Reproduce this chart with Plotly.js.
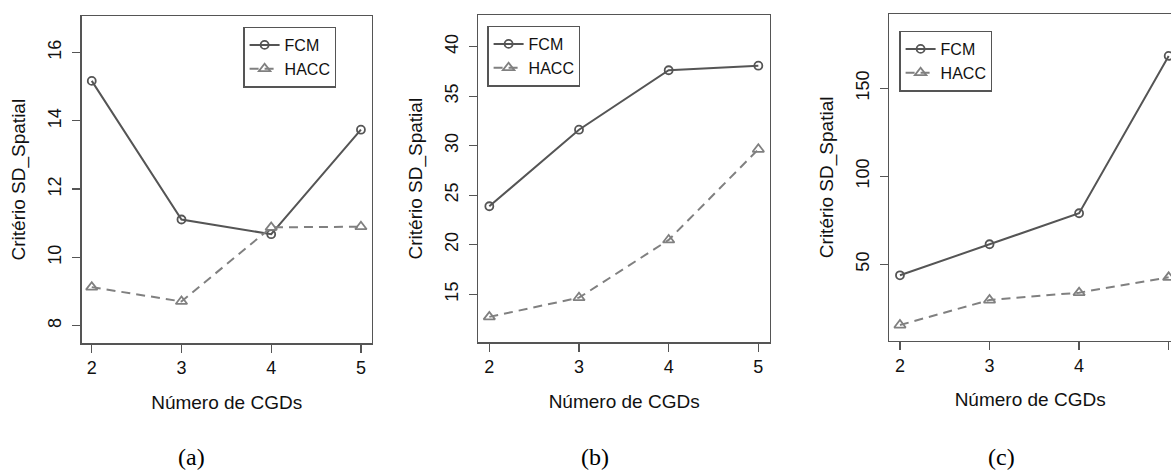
<!DOCTYPE html>
<html>
<head>
<meta charset="utf-8">
<script src="https://cdn.plot.ly/plotly-3.0.1.min.js"></script>
<style>html,body{margin:0;padding:0;background:#fff;}#chart{width:1171px;height:474px;}</style>
</head>
<body>
<div id="chart"></div>
<script>
// ---- data ----
const cgds = [2, 3, 4, 5];
const xTickLabels = ["2", "3", "4", "5"];
const seriesNames = ["FCM", "HACC"];
const panelLabels = ["(a)", "(b)", "(c)"];
const fcmA = [15.17, 11.11, 10.68, 13.74];
const haccA = [9.13, 8.71, 10.88, 10.90];
const fcmB = [23.89, 31.62, 37.62, 38.08];
const haccB = [12.72, 14.66, 20.49, 29.64];
const fcmC = [43.75, 61.4, 79.0, 168.4];
const haccC = [15.5, 29.7, 33.9, 42.6];
const xTitle = "Número de CGDs";
const yTitle = "Critério SD_Spatial";

// ---- styling ----
const W = 1171, H = 474;
const FCM_COLOR = "#555555", HACC_COLOR = "#808080", AXIS_COLOR = "#555555";
const FONT = "Liberation Sans, Arial, sans-serif";

function fcmTrace(y, ax, leg) {
  return {x: cgds, y: y, xaxis: ax[0], yaxis: ax[1], legend: leg, name: seriesNames[0],
    mode: "lines+markers", type: "scatter",
    line: {color: FCM_COLOR, width: 2},
    marker: {symbol: "circle-open", size: 8, color: FCM_COLOR, line: {width: 1.8, color: FCM_COLOR}}};
}
function haccTrace(y, ax, leg) {
  return {x: cgds, y: y, xaxis: ax[0], yaxis: ax[1], legend: leg, name: seriesNames[1],
    mode: "lines+markers", type: "scatter",
    line: {color: HACC_COLOR, width: 2, dash: "9px,6px"},
    marker: {symbol: "triangle-up-open", size: 10, color: HACC_COLOR, line: {width: 1.8, color: HACC_COLOR}}};
}

const data = [
  fcmTrace(fcmA, ["x", "y"], "legend"), haccTrace(haccA, ["x", "y"], "legend"),
  fcmTrace(fcmB, ["x2", "y2"], "legend2"), haccTrace(haccB, ["x2", "y2"], "legend2"),
  fcmTrace(fcmC, ["x3", "y3"], "legend3"), haccTrace(haccC, ["x3", "y3"], "legend3")
];

function xAxis(domain, range, anchor) {
  return {domain: domain, range: range, anchor: anchor,
    tickmode: "array", tickvals: cgds, ticktext: xTickLabels,
    showline: true, mirror: true, linecolor: AXIS_COLOR, linewidth: 1.3,
    ticks: "outside", ticklen: 8, tickwidth: 1.3, tickcolor: AXIS_COLOR,
    showgrid: false, zeroline: false,
    tickfont: {family: FONT, size: 18, color: "#111"},
    title: {text: xTitle, font: {family: FONT, size: 19, color: "#111"}, standoff: 18}};
}
function yAxis(domain, range, dtick, anchor) {
  return {domain: domain, range: range, anchor: anchor,
    tick0: 0, dtick: dtick, tickangle: -90, ticklabelstandoff: 4,
    showline: true, mirror: true, linecolor: AXIS_COLOR, linewidth: 1.3,
    ticks: "outside", ticklen: 8, tickwidth: 1.3, tickcolor: AXIS_COLOR,
    showgrid: false, zeroline: false,
    tickfont: {family: FONT, size: 18, color: "#111"},
    title: {text: yTitle, font: {family: FONT, size: 19, color: "#111"}, standoff: 14}};
}
function legendAt(x, y) {
  return {x: x, y: y, xanchor: "left", yanchor: "top", xref: "paper", yref: "paper",
    bgcolor: "#fff", bordercolor: AXIS_COLOR, borderwidth: 1.3,
    font: {family: FONT, size: 16, color: "#111"}, itemwidth: 30, tracegroupgap: 0};
}

const layout = {
  width: W, height: H,
  margin: {l: 0, r: 0, t: 0, b: 0},
  paper_bgcolor: "#fff", plot_bgcolor: "#fff",
  showlegend: true,
  xaxis: xAxis([81.7 / W, 371.7 / W], [1.888, 5.12], "y"),
  yaxis: yAxis([1 - 343.3 / H, 1 - 16 / H], [7.485, 17.07], 2, "x"),
  xaxis2: xAxis([478.3 / W, 770 / W], [1.877, 5.13], "y2"),
  yaxis2: yAxis([1 - 342.3 / H, 1 - 15 / H], [10.155, 43.2], 5, "x2"),
  xaxis3: xAxis([889.3 / W, 1], [1.881, 5.026], "y3"),
  yaxis3: yAxis([1 - 340.7 / H, 1 - 14 / H], [6.6, 192.2], 50, "x3"),
  legend: legendAt(243.3 / W, 1 - 26.7 / H),
  legend2: legendAt(487.3 / W, 1 - 25.7 / H),
  legend3: legendAt(899.3 / W, 1 - 30.7 / H),
  annotations: [
    {text: panelLabels[0], x: 191.7 / W, y: 1 - 456.7 / H},
    {text: panelLabels[1], x: 595 / W, y: 1 - 456.7 / H},
    {text: panelLabels[2], x: 1001.7 / W, y: 1 - 456.7 / H}
  ].map(a => Object.assign(a, {xref: "paper", yref: "paper", showarrow: false,
    xanchor: "center", yanchor: "middle",
    font: {family: "Liberation Serif, Times New Roman, serif", size: 24, color: "#000"}}))
};

Plotly.newPlot("chart", data, layout, {staticPlot: true, displayModeBar: false});
</script>
</body>
</html>
